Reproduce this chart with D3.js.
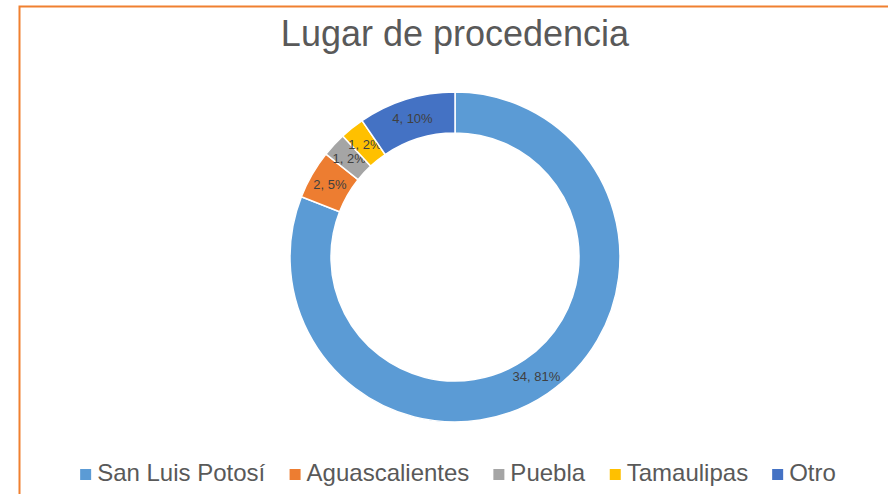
<!DOCTYPE html>
<html>
<head>
<meta charset="utf-8">
<script src="https://cdn.jsdelivr.net/npm/d3@7"></script>
<style>
  body { margin: 0; background: #fff; }
  svg { display: block; font-family: "Liberation Sans", Arial, sans-serif; }
</style>
</head>
<body>
<div id="chart"></div>
<script>
// Data
const categories = ["San Luis Potosí", "Aguascalientes", "Puebla", "Tamaulipas", "Otro"];
const counts = [34, 2, 1, 1, 4];
const percents = ["81%", "5%", "2%", "2%", "10%"];
const colors = ["#5B9BD5", "#ED7D31", "#A5A5A5", "#FFC000", "#4472C4"];

const W = 888, H = 494;
const cx = 455, cy = 257;
const outerR = 165, innerR = 124;

const svg = d3.select("#chart")
    .append("svg")
    .attr("width", W)
    .attr("height", H);

// chart frame (orange border, cut off at right/bottom)
svg.append("rect")
    .attr("x", 19.5)
    .attr("y", 6.5)
    .attr("width", W + 10)
    .attr("height", H + 10)
    .attr("fill", "#fff")
    .attr("stroke", "#F08030")
    .attr("stroke-width", 2);

// Title
svg.append("text")
    .attr("x", cx)
    .attr("y", 46)
    .attr("text-anchor", "middle")
    .style("font-size", "36px")
    .style("fill", "#595959")
    .text("Lugar de procedencia");

const data = categories.map((c, i) => ({ name: c, value: counts[i], pct: percents[i], color: colors[i] }));

const pie = d3.pie()
    .sort(null)
    .value(d => d.value);

const arc = d3.arc()
    .innerRadius(innerR)
    .outerRadius(outerR);

const g = svg.append("g")
    .attr("transform", `translate(${cx},${cy})`);

const arcs = g.selectAll(".slice")
    .data(pie(data))
    .enter()
    .append("g")
    .attr("class", "slice");

arcs.append("path")
    .attr("d", arc)
    .attr("fill", d => d.data.color)
    .attr("stroke", "#fff")
    .attr("stroke-width", 1.5);

// data labels
arcs.append("text")
    .attr("transform", d => {
        const c = arc.centroid(d);
        return `translate(${c[0]},${c[1]})`;
    })
    .attr("dy", "0.35em")
    .attr("text-anchor", "middle")
    .style("font-size", "13px")
    .style("fill", "#404040")
    .text(d => `${d.data.value}, ${d.data.pct}`);

// Legend
const legend = svg.append("g")
    .attr("class", "legend");

const legendItems = legend.selectAll(".legend-item")
    .data(data)
    .enter()
    .append("g")
    .attr("class", "legend-item");

legendItems.append("rect")
    .attr("y", -12)
    .attr("width", 11)
    .attr("height", 11)
    .attr("fill", d => d.color);

legendItems.append("text")
    .attr("x", 17)
    .attr("y", 0)
    .style("font-size", "24px")
    .style("fill", "#595959")
    .text(d => d.name);

// lay out legend items horizontally, centered
let xPos = 0;
const gap = 24;
legendItems.each(function() {
    const w = this.getBBox().width;
    d3.select(this).attr("transform", `translate(${xPos},0)`);
    xPos += w + gap;
});
const totalW = xPos - gap;
legend.attr("transform", `translate(${cx - totalW / 2 + 3},${481})`);
</script>
</body>
</html>
